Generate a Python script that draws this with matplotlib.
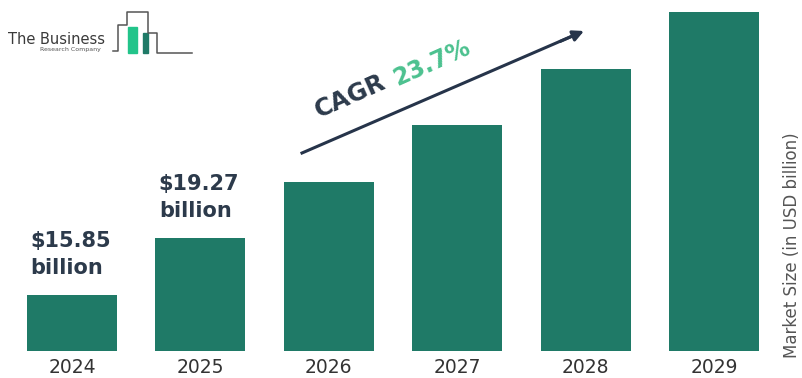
import matplotlib.pyplot as plt
from matplotlib.patches import Rectangle

# market size by year (USD billion); axis starts above zero
years = ["2024", "2025", "2026", "2027", "2028", "2029"]
market_size = [15.85, 19.27, 22.63, 26.05, 29.41, 32.83]
labelled = [0, 1, 5]
y_floor = 12.49
y_ceil = 33.55
cagr_text = "23.7%"

bar_color = "#1f7a67"
label_color = "#2c3a4b"
cagr_green = "#4cc18f"

W, H = 803, 378
fig = plt.figure(figsize=(W / 100, H / 100), dpi=100)
fig.patch.set_facecolor("white")


def fx(px):
    return px / W


def fy(py):
    return 1 - py / H


# main bar axes: bars sit on y=351 px, 2029 bar reaches the top edge
ax = fig.add_axes([0, fy(351), 1, 351 / H])
x = list(range(len(years)))
bars = ax.bar(x, market_size, width=0.70, bottom=0, color=bar_color, zorder=2)
ax.set_xlim(-72 / 128.4, (W - 72) / 128.4)
ax.set_ylim(y_floor, y_ceil)
for s in ax.spines.values():
    s.set_visible(False)
ax.set_yticks([])
ax.set_xticks(x)
ax.set_xticklabels(years, fontsize=13.5, color="#333333")
ax.tick_params(axis="x", length=0, pad=5)

for i in labelled:
    ax.annotate(f"${market_size[i]:.2f}\nbillion", (x[i], market_size[i]),
                xytext=(-1, 12), textcoords="offset points",
                ha="center", va="bottom", multialignment="left",
                fontsize=15, fontweight="bold",
                color=label_color, linespacing=1.45, annotation_clip=False)

# growth arrow with CAGR caption
fig.add_artist(plt.Line2D([fx(302), fx(570)], [fy(153), fy(37)],
                          color="#26344a", lw=2.2))
ax.annotate("", xy=(fx(584), fy(31)), xytext=(fx(560), fy(41.5)),
            xycoords="figure fraction", textcoords="figure fraction",
            arrowprops=dict(arrowstyle="-|>", color="#26344a", lw=2.2,
                            mutation_scale=16, shrinkA=0, shrinkB=0))
fig.text(fx(319), fy(118), "CAGR", rotation=24, rotation_mode="anchor",
         ha="left", va="baseline", fontsize=17.5, fontweight="bold",
         color=label_color)
fig.text(fx(397), fy(86), cagr_text, rotation=24, rotation_mode="anchor",
         ha="left", va="baseline", fontsize=17, fontweight="bold",
         color=cagr_green)

fig.text(fx(792), fy(245), "Market Size (in USD billion)", rotation=90,
         ha="center", va="center", fontsize=12, color="#555555")

# company logo, top left
fig.text(fx(8), fy(44), "The Business", fontsize=10.5, color="#3a3a3a",
         ha="left", va="baseline")
fig.text(fx(40), fy(50.5), "Research Company", fontsize=4.5, color="#555555",
         ha="left", va="baseline")
logo_x = [113, 118, 118, 127, 127, 148, 148, 157, 157, 192]
logo_y = [51, 51, 25, 25, 12, 12, 33, 33, 53, 53]
fig.add_artist(plt.Line2D([fx(v) for v in logo_x], [fy(v) for v in logo_y],
                          color="#555555", lw=1.1))
fig.add_artist(Rectangle((fx(128), fy(53)), fx(9), 26 / H,
                         transform=fig.transFigure, color="#22c48a"))
fig.add_artist(Rectangle((fx(143), fy(53)), fx(5), 20 / H,
                         transform=fig.transFigure, color="#1f7a67"))

fig.savefig("out.png", dpi=100, facecolor="white")
